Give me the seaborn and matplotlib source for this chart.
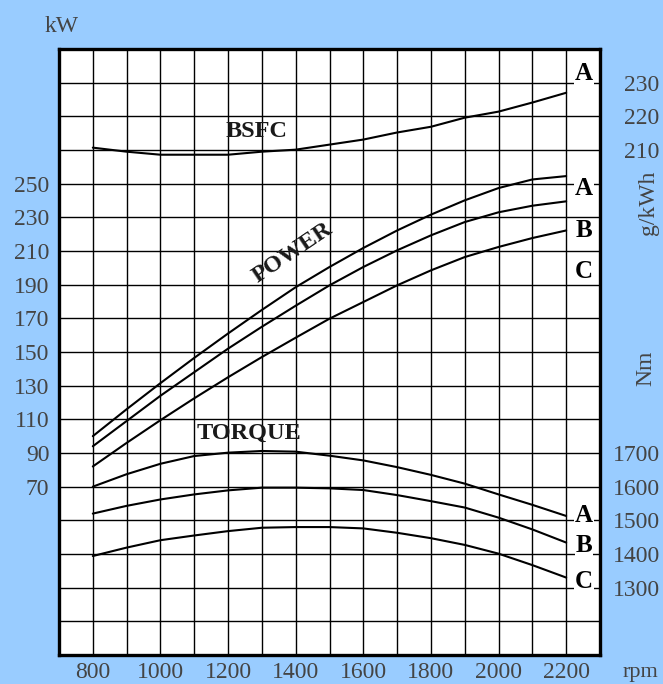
import numpy as np
import pandas as pd
import seaborn as sns
import matplotlib.pyplot as plt

# engine speed (rpm)
rpm = [800, 900, 1000, 1100, 1200, 1300, 1400, 1500,
       1600, 1700, 1800, 1900, 2000, 2100, 2200]

# power, kW
power_a = [100, 116, 131.5, 146.5, 161, 175, 188.5, 200.5,
           211.8, 222.2, 231.6, 240.1, 247.4, 252.5, 254.5]
power_b = [94, 109, 124, 138, 152, 165, 177.5, 189.6,
           200.5, 210.4, 219.3, 227.2, 233, 236.9, 239.5]
power_c = [82, 96, 109.5, 122.5, 135, 147, 158.5, 169.8,
           179.7, 189.6, 198.5, 206.4, 212.4, 217.7, 222.2]

# torque, Nm
torque_a = [1600, 1637, 1668, 1691, 1701, 1706, 1704, 1692,
            1678, 1658, 1635, 1609, 1577, 1546, 1513]
torque_b = [1520, 1543, 1562, 1577, 1589, 1597, 1597, 1595,
            1590, 1575, 1557, 1538, 1508, 1473, 1434]
torque_c = [1394, 1419, 1441, 1455, 1468, 1478, 1480, 1480,
            1476, 1463, 1447, 1427, 1401, 1367, 1330]

# fuel consumption, g/kWh
bsfc = [210.7, 209.5, 208.6, 208.6, 208.6, 209.5, 210.1, 211.6,
        213.1, 215.2, 216.9, 219.6, 221.4, 224.1, 227.0]

grades = ['A', 'B', 'C']
kw_ticks = [70, 90, 110, 130, 150, 170, 190, 210, 230, 250]
g_ticks = [210, 220, 230]
nm_ticks = [1300, 1400, 1500, 1600, 1700]
rpm_ticks = [800, 1000, 1200, 1400, 1600, 1800, 2000, 2200]

power_df = pd.DataFrame({'rpm': rpm * 3,
                         'kW': power_a + power_b + power_c,
                         'grade': [g for g in grades for _ in rpm]})
torque_df = pd.DataFrame({'rpm': rpm * 3,
                          'Nm': torque_a + torque_b + torque_c,
                          'grade': [g for g in grades for _ in rpm]})
bsfc_df = pd.DataFrame({'rpm': rpm, 'g': bsfc})

sns.set_style('white')
plt.rcParams['font.family'] = ['Liberation Serif', 'DejaVu Serif']

bg = '#99ccff'
tick_col = '#444444'
fig = plt.figure(figsize=(6.63, 6.84), dpi=100, facecolor=bg)
ax = fig.add_axes([59 / 663, 1 - 655 / 684, 541 / 663, 606 / 684])
ax.set_facecolor('white')

sns.lineplot(data=power_df, x='rpm', y='kW', units='grade', estimator=None,
             color='black', lw=1.5, ax=ax)
ax.set_xlim(700, 2300)
ax.set_ylim(-30, 330)

# grid
ax.set_xticks(np.arange(700, 2301, 100), minor=True)
ax.set_yticks(np.arange(-30, 331, 20), minor=True)
ax.set_xticks(rpm_ticks)
ax.set_yticks(kw_ticks)
ax.grid(which='both', color='black', lw=1.0)
ax.set_axisbelow(True)
ax.tick_params(which='both', length=0, labelsize=17, labelcolor=tick_col)
ax.tick_params(axis='y', pad=7)
ax.tick_params(axis='x', pad=5)
ax.set_xlabel('')
ax.set_ylabel('')
for s in ax.spines.values():
    s.set_visible(True)
    s.set_color('black')
    s.set_linewidth(2.4)

# BSFC on its own scale
ax_g = ax.twinx()
sns.lineplot(data=bsfc_df, x='rpm', y='g', color='black', lw=1.5, ax=ax_g)
ax_g.set_ylim(60, 240)
ax_g.set_yticks(g_ticks)

# torque on its own scale
ax_t = ax.twinx()
sns.lineplot(data=torque_df, x='rpm', y='Nm', units='grade', estimator=None,
             color='black', lw=1.5, ax=ax_t)
ax_t.set_ylim(1100, 2900)
ax_t.set_yticks(nm_ticks)

for a in (ax_g, ax_t):
    a.set_xlim(700, 2300)
    a.set_ylabel('')
    a.set_xlabel('')
    for s in a.spines.values():
        s.set_visible(False)
    a.tick_params(axis='y', length=0, pad=43, labelsize=17, labelcolor=tick_col)
    plt.setp(a.get_yticklabels(), ha='right')

# curve names
name_kw = dict(fontsize=17.5, fontweight='bold', color='#1a1a1a',
               ha='center', va='center')
ax.text(1285, 281, 'BSFC', **name_kw)
ax.text(1390, 209, 'POWER', rotation=34, **name_kw)
ax.text(1262, 101.5, 'TORQUE', **name_kw)

letter_kw = dict(fontsize=18, fontweight='bold', color='black', ha='center',
                 va='center', bbox=dict(fc='white', ec='none', pad=0.5))
for letter, y in [('A', 315.3), ('A', 247), ('B', 222), ('C', 198),
                  ('A', 52.8), ('B', 35), ('C', 13.7)]:
    ax.text(2253, y, letter, **letter_kw)

# unit labels
fig.text(62 / 663, 1 - 27 / 684, 'kW', fontsize=17, color=tick_col,
         ha='center', va='center')
fig.text(640 / 663, 2 / 684, 'rpm', fontsize=16, color=tick_col,
         ha='center', va='bottom')
fig.text(648 / 663, 1 - 203 / 684, 'g/kWh', fontsize=17, color=tick_col,
         rotation=90, ha='center', va='center')
fig.text(646 / 663, 1 - 368 / 684, 'Nm', fontsize=17, color=tick_col,
         rotation=90, ha='center', va='center')

fig.savefig('out.png', dpi=100, facecolor=bg)
